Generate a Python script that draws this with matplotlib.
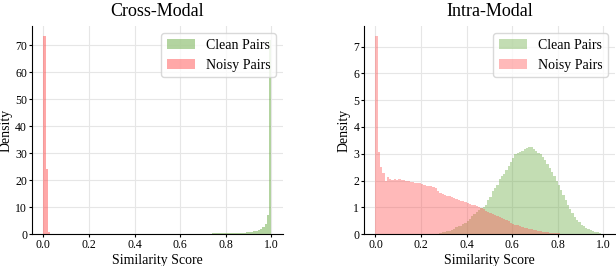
import numpy as np
import matplotlib
matplotlib.use("Agg")
import matplotlib.pyplot as plt

plt.rcParams['font.family'] = ['Liberation Serif', 'DejaVu Serif']

## Histogram bins: 100 bins of width 0.01 on [0, 1]
edges = np.arange(101) / 100
left_edges = edges[:-1]

## Cross-modal densities (per bin)
cross_clean = np.zeros(100)
cross_clean[74:100] = [0.35, 0.35, 0.38, 0.38, 0.4, 0.4, 0.42, 0.42, 0.45, 0.45, 0.48,
                       0.5, 0.5, 0.52, 0.55, 0.62, 0.74, 0.74, 0.99, 1.24, 1.49,
                       2.0, 2.48, 3.6, 6.9, 72.0]
cross_noisy = np.zeros(100)
cross_noisy[0:3] = [73.5, 24.2, 0.6]

## Intra-modal densities (per bin)
intra_clean = np.zeros(100)
intra_clean[27:100] = [0.02, 0.04, 0.06, 0.08, 0.1, 0.12, 0.15, 0.2, 0.26, 0.3,
                       0.32, 0.36, 0.4, 0.47, 0.56, 0.66, 0.75, 0.82, 0.9, 0.97,
                       1.02, 1.1, 1.27, 1.39, 1.6, 1.73, 1.85, 2.05, 2.16, 2.25,
                       2.4, 2.54, 2.7, 2.85, 2.98, 3.04, 3.08, 3.12, 3.16, 3.2,
                       3.24, 3.25, 3.19, 3.1, 3.04, 2.98, 2.88, 2.75, 2.62, 2.48,
                       2.32, 2.16, 2.0, 1.82, 1.64, 1.47, 1.29, 1.1, 0.94, 0.79,
                       0.65, 0.54, 0.44, 0.35, 0.29, 0.23, 0.19, 0.15, 0.11, 0.09,
                       0.06, 0.04, 0.02]
intra_noisy = np.zeros(100)
intra_noisy[0:84] = [7.4, 3.05, 2.5, 2.28, 2.0, 2.12, 2.06, 2.03, 2.05, 2.02,
                     2.04, 2.01, 2.03, 1.98, 2.0, 1.93, 1.96, 1.92, 1.9, 1.9,
                     1.88, 1.83, 1.8, 1.8, 1.79, 1.77, 1.72, 1.6, 1.52, 1.51,
                     1.47, 1.44, 1.42, 1.38, 1.35, 1.3, 1.28, 1.25, 1.22, 1.2,
                     1.16, 1.13, 1.1, 1.07, 1.04, 1.0, 0.96, 0.92, 0.87, 0.84,
                     0.8, 0.76, 0.72, 0.69, 0.65, 0.6, 0.58, 0.54, 0.48, 0.42,
                     0.39, 0.35, 0.33, 0.29, 0.26, 0.24, 0.21, 0.2, 0.18, 0.15,
                     0.14, 0.12, 0.1, 0.09, 0.07, 0.06, 0.05, 0.05, 0.04, 0.04,
                     0.03, 0.02, 0.02, 0.01]

GREEN = '#69aa42'
RED = '#ff5252'

fig = plt.figure(figsize=(6.16, 2.66), dpi=100)
ax1 = fig.add_axes([0.052, 0.120, 0.407, 0.782])
ax2 = fig.add_axes([0.591, 0.120, 0.407, 0.782])

panels = [
    (ax1, 'Cross-Modal', cross_clean, cross_noisy, 0.5, [0, 10, 20, 30, 40, 50, 60, 70]),
    (ax2, 'Intra-Modal', intra_clean, intra_noisy, 0.4, [0, 1, 2, 3, 4, 5, 6, 7]),
]

for ax, title, clean, noisy, alpha, yticks in panels:
    ax.hist(left_edges, bins=edges, weights=clean, color=GREEN, alpha=alpha,
            label='Clean Pairs')
    ax.hist(left_edges, bins=edges, weights=noisy, color=RED, alpha=alpha,
            label='Noisy Pairs')
    ax.set_axisbelow(True)
    ax.grid(True, color='#e6e6e6', linewidth=0.8)
    ax.set_xticks([0.0, 0.2, 0.4, 0.6, 0.8, 1.0])
    ax.set_yticks(yticks)
    ax.tick_params(labelsize=8.5, length=2, width=0.8, pad=1.5)
    ax.set_xlabel('Similarity Score', fontsize=10, labelpad=2)
    ax.set_ylabel('Density', fontsize=10, labelpad=2)
    ax.set_title(title, fontsize=13, pad=7)
    ax.spines['top'].set_visible(False)
    ax.spines['right'].set_visible(False)
    ax.legend(loc='upper right', fontsize=10, framealpha=0.8, edgecolor='#d0d0d0')

fig.savefig('out.png', dpi=100)
